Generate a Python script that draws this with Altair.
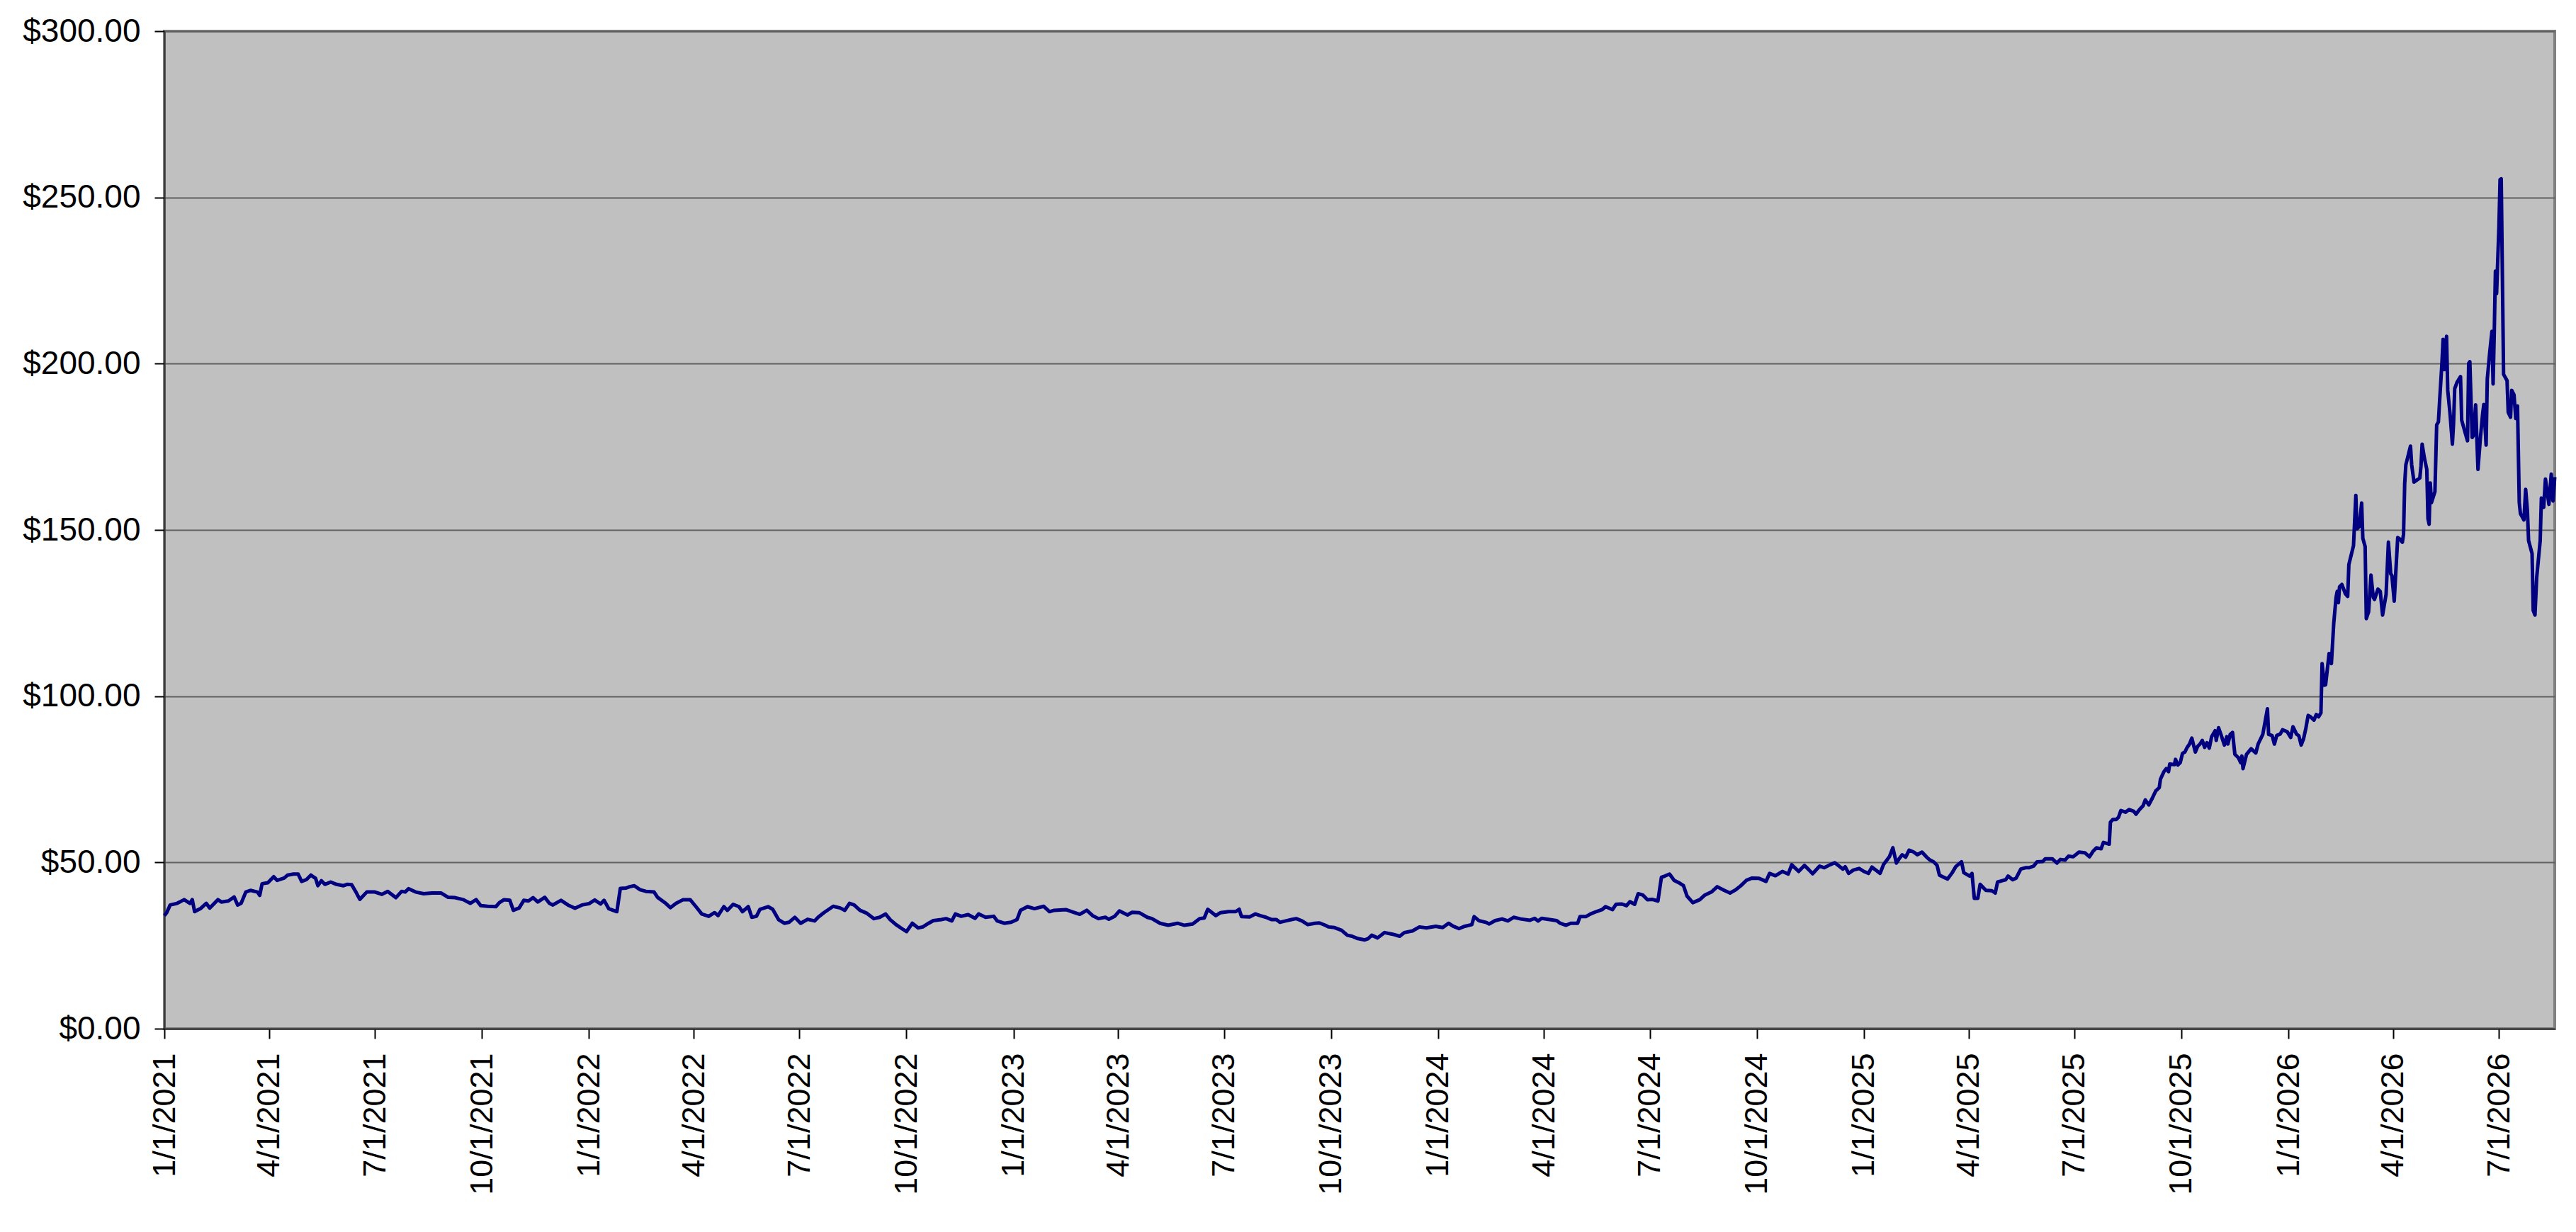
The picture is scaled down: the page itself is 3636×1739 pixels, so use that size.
import altair as alt
import pandas as pd

start_date = "2021-01-01"

# day offsets from 1/1/2021
day_offsets = [
    0, 2, 5, 11, 17, 22, 24, 26, 31, 36, 39, 46, 49, 55, 60, 63, 66, 70, 74, 80, 82, 84, 89, 94, 97,
    103, 106, 111, 115, 118, 122, 126, 130, 132, 135, 138, 143, 148, 154, 157, 161, 165, 168, 174,
    181, 187, 192, 196, 199, 204, 207, 210, 216, 223, 230, 238, 244, 250, 257, 263, 268, 272, 278,
    285, 288, 292, 297, 300, 305, 309, 313, 317, 321, 327, 331, 334, 341, 347, 353, 359, 365, 370,
    375, 378, 382, 389, 392, 397, 400, 404, 409, 414, 421, 424, 431, 435, 440, 446, 452, 457, 462,
    468, 473, 476, 481, 484, 489, 494, 497, 502, 505, 509, 512, 519, 523, 528, 533, 537, 542, 547,
    553, 559, 562, 567, 575, 581, 585, 589, 593, 598, 604, 610, 615, 620, 624, 629, 634, 638, 643,
    648, 652, 657, 661, 668, 672, 677, 680, 685, 691, 697, 700, 706, 713, 716, 722, 728, 733, 736,
    742, 748, 756, 761, 765, 775, 781, 787, 793, 798, 803, 809, 812, 817, 821, 828, 832, 838, 845,
    849, 856, 863, 871, 877, 884, 890, 894, 897, 904, 908, 915, 921, 924, 926, 933, 938, 942, 947,
    952, 956, 959, 964, 969, 973, 978, 983, 989, 993, 998, 1001, 1006, 1012, 1017, 1021, 1026,
    1032, 1035, 1038, 1043, 1049, 1056, 1062, 1066, 1073, 1079, 1085, 1093, 1099, 1104, 1108,
    1113, 1118, 1124, 1126, 1130, 1136, 1139, 1144, 1150, 1155, 1160, 1166, 1174, 1178, 1181,
    1184, 1191, 1197, 1200, 1205, 1209, 1215, 1217, 1222, 1226, 1231, 1236, 1239, 1245, 1248,
    1253, 1257, 1260, 1264, 1267, 1271, 1275, 1279, 1284, 1287, 1290, 1294, 1298, 1302, 1306,
    1309, 1314, 1320, 1324, 1330, 1335, 1341, 1346, 1351, 1355, 1360, 1365, 1371, 1377, 1380,
    1385, 1391, 1396, 1399, 1405, 1410, 1414, 1417, 1423, 1427, 1432, 1436, 1439, 1443, 1445,
    1448, 1452, 1457, 1461, 1465, 1468, 1475, 1478, 1483, 1486, 1489, 1491, 1494, 1497, 1500,
    1504, 1507, 1511, 1515, 1518, 1521, 1524, 1526, 1530, 1533, 1537, 1540, 1545, 1547, 1552,
    1554, 1556, 1559, 1561, 1566, 1571, 1574, 1576, 1580, 1583, 1585, 1589, 1592, 1596, 1600,
    1603, 1607, 1610, 1615, 1617, 1623, 1627, 1630, 1634, 1637, 1641, 1646, 1651, 1655, 1658,
    1661, 1665, 1667, 1672, 1673, 1675, 1678, 1680, 1682, 1686, 1689, 1693, 1695, 1698, 1701,
    1703, 1706, 1709, 1712, 1715, 1716, 1719, 1721, 1723, 1724, 1728, 1729, 1731, 1733, 1735,
    1737, 1739, 1741, 1743, 1746, 1748, 1750, 1752, 1754, 1756, 1758, 1760, 1763, 1764, 1766,
    1768, 1771, 1773, 1774, 1776, 1778, 1780, 1783, 1785, 1786, 1787, 1790, 1794, 1798, 1800,
    1804, 1808, 1809, 1812, 1814, 1816, 1819, 1821, 1825, 1828, 1830, 1833, 1835, 1837, 1839,
    1841, 1843, 1845, 1848, 1850, 1852, 1854, 1855, 1857, 1858, 1861, 1863, 1865, 1867, 1868,
    1869, 1870, 1872, 1875, 1877, 1878, 1882, 1884, 1885, 1887, 1889, 1890, 1892, 1893, 1895,
    1897, 1899, 1900, 1903, 1905, 1907, 1910, 1912, 1914, 1915, 1917, 1920, 1922, 1924, 1925,
    1926, 1927, 1931, 1932, 1934, 1939, 1940, 1941, 1943, 1945, 1946, 1947, 1948, 1949, 1952,
    1953.5, 1955, 1956, 1958, 1959, 1960, 1962, 1963, 1965, 1967, 1968, 1969, 1971, 1974, 1975,
    1978, 1980, 1981, 1982, 1984, 1985, 1987, 1989, 1991, 1993, 1994, 1996, 1997, 1999, 2001,
    2002, 2003, 2004, 2005, 2007, 2008, 2009, 2011, 2014, 2015, 2017, 2018, 2020, 2021.5, 2023,
    2024.5, 2025.5, 2028.5, 2030, 2031.5, 2032.5, 2035.5, 2036.5, 2038, 2039.5, 2042.5, 2043.5,
    2045.5, 2047, 2050, 2052, 2053.5, 2055,
]

prices = [
    34.0, 34.9, 37.2, 37.7, 38.8, 37.7, 38.8, 35.2, 36.1, 37.7, 36.3, 38.8, 38.1, 38.4, 39.6, 37.2,
    37.7, 41.1, 41.6, 41.1, 40.1, 43.6, 43.9, 45.7, 44.6,
    45.3, 46.2, 46.5, 46.5, 44.3, 44.8, 46.2, 45.2, 43.0, 44.5, 43.4, 44.1, 43.4, 43.0, 43.4, 43.3,
    40.9, 38.9, 41.1,
    41.1, 40.4, 41.3, 40.2, 39.4, 41.3, 41.1, 42.1, 41.1, 40.6, 40.8, 40.8, 39.5, 39.4, 38.8, 37.7,
    38.8, 37.0, 36.8,
    36.7, 37.9, 38.8, 38.6, 35.6, 36.3, 38.6, 38.4, 39.4, 38.1, 39.5, 37.7, 37.2, 38.6, 37.2, 36.2,
    37.2, 37.6, 38.7,
    37.5, 38.6, 36.1, 35.2, 42.2, 42.3, 42.7, 43.0, 41.8, 41.3, 41.1, 39.5, 37.7, 36.4, 37.7, 38.8,
    38.8, 36.7, 34.5,
    33.8, 34.9, 34.0, 36.7, 35.6, 37.4, 36.7, 35.2, 36.7, 33.5, 33.8, 35.9, 36.7, 35.9, 32.8, 31.7,
    32.0, 33.5, 31.7,
    32.9, 32.4, 33.5, 34.9, 36.8, 36.3, 35.6, 37.7, 37.2, 35.6, 34.7, 33.1, 33.5, 34.5, 32.8, 31.3,
    30.1, 29.2, 31.7,
    30.3, 30.6, 31.7, 32.5, 32.8, 33.1, 32.4, 34.5, 33.8, 34.3, 33.2, 34.5, 33.5, 33.8, 32.4, 31.7,
    32.0, 32.8, 35.6,
    36.7, 36.1, 36.8, 35.2, 35.6, 35.8, 35.1, 34.4, 35.6, 34.0, 33.1, 33.5, 32.9, 33.8, 35.4, 34.2,
    35.0, 34.9, 33.5,
    33.1, 31.7, 31.1, 31.7, 31.1, 31.5, 33.1, 33.3, 35.9, 34.0, 34.9, 35.2, 35.2, 35.9, 33.7, 33.6,
    34.5, 34.0, 33.5,
    32.8, 32.8, 32.0, 32.4, 32.8, 33.1, 32.4, 31.3, 31.7, 31.8, 31.1, 30.6, 30.4, 29.6, 28.1, 27.8,
    27.1,
    26.7, 27.1, 28.1, 27.3, 28.9, 28.4, 27.8, 28.9, 29.4, 30.6, 30.3, 30.8, 30.4, 31.7, 30.8,
    30.1, 30.8, 31.3, 33.7, 32.5, 32.0, 31.5, 32.5, 33.0, 32.4, 33.5, 33.0, 32.6, 33.2, 32.4,
    33.2, 32.8, 32.5, 31.7, 31.1, 31.7, 31.7, 33.7, 33.7, 34.5, 35.2, 35.8, 36.7, 35.8, 37.4,
    37.5, 37.0, 38.2, 37.4, 40.6, 40.2, 38.8, 38.9, 38.4, 45.5, 45.9, 46.5, 44.6, 43.9, 43.0,
    39.9, 37.9, 38.8, 40.1, 41.1, 42.7, 41.6, 40.8, 41.8, 42.9, 44.6, 45.3, 45.2, 44.3, 46.7,
    46.0, 47.3, 46.5, 49.3, 47.3, 49.1, 47.7, 46.6, 48.9, 48.4, 49.3, 49.9, 49.1, 48.0, 48.7,
    46.7, 47.7, 48.2, 47.3, 46.7, 48.6, 46.7, 49.4, 51.7, 54.4, 49.8, 50.9, 52.3, 51.6, 53.7,
    53.1, 52.3, 53.1, 51.6, 50.7, 50.2, 49.1, 46.2, 45.5, 45.0, 46.9, 48.7, 50.2, 46.9, 45.9,
    46.7, 39.2, 39.2, 43.4, 41.6, 41.5, 40.8, 44.1, 44.5, 44.8, 45.9, 44.8, 45.3, 48.0, 48.4,
    48.4, 48.9, 50.2, 50.3, 51.1, 51.1, 49.8, 50.9, 50.7, 51.9, 51.7, 53.1, 52.9, 51.7, 53.3,
    54.4, 54.1, 56.0, 55.5, 62.1, 62.9, 62.9, 63.6, 65.6, 65.1, 65.9, 65.4, 64.5, 65.9, 67.0,
    68.8, 67.3, 69.3, 71.5, 72.5, 75.0, 77.3, 78.2, 77.3, 79.6, 79.4, 81.0, 79.3, 80.0, 82.8,
    83.2, 84.6, 85.6, 87.4, 83.2, 84.9, 85.6, 86.7, 84.6, 86.0, 84.4, 87.8, 89.6, 86.7, 90.5,
    88.5, 85.3, 87.8, 85.6, 88.5, 89.1, 82.5, 81.5, 80.0, 82.0, 78.2, 82.5, 84.2, 82.9, 85.6,
    88.5, 96.2, 88.5, 88.2, 85.6, 88.2, 88.6, 89.9, 89.3, 87.6, 90.8, 88.6, 88.1, 85.3, 87.1,
    90.3, 94.2, 93.8, 92.8, 94.5, 93.8, 95.0, 109.8, 103.3, 103.4, 112.8, 109.8, 121.9, 129.7, 131.5,
    128.1, 132.9, 133.6, 130.8, 130.0, 139.6, 145.3, 160.4, 150.3, 151.0, 158.1, 147.5, 145.0, 123.3, 125.4,
    136.4, 129.7, 129.1, 132.2, 131.5, 124.4, 130.6, 146.3, 136.8, 136.3, 128.6, 147.7, 147.2, 146.3, 148.7,
    163.9, 169.6, 175.2, 169.6, 164.4, 165.6, 169.2, 175.8, 171.5, 168.2, 153.4, 151.7, 164.1, 158.2, 161.5,
    181.6, 182.5, 188.7, 200.1, 207.3, 198.2, 208.2, 192.0, 184.9, 175.8, 182.0, 192.5, 194.4, 196.1, 183.0,
    179.2, 176.8, 200.1, 200.6, 177.8, 178.3, 187.6, 168.2, 177.3, 184.9, 187.7, 175.5, 195.4, 203.0, 209.7,
    193.9, 209.2, 227.8, 221.1, 241.1, 255.4, 255.6, 196.8, 194.9, 185.4, 183.9, 192.0, 190.6, 183.5, 187.3,
    158.2, 154.9, 153.0, 162.2, 155.8, 146.8, 142.9, 125.8, 124.4, 135.8, 146.8, 159.6,
    156.8, 165.3, 157.7, 166.8, 158.7, 165.9,
]

tick_dates = [
    "2021-01-01", "2021-04-01", "2021-07-01", "2021-10-01",
    "2022-01-01", "2022-04-01", "2022-07-01", "2022-10-01",
    "2023-01-01", "2023-04-01", "2023-07-01", "2023-10-01",
    "2024-01-01", "2024-04-01", "2024-07-01", "2024-10-01",
    "2025-01-01", "2025-04-01", "2025-07-01", "2025-10-01",
    "2026-01-01", "2026-04-01", "2026-07-01",
]
y_ticks = [0, 50, 100, 150, 200, 250, 300]
x_end = "2026-08-18"

n = min(len(day_offsets), len(prices))
df = pd.DataFrame({
    "date": pd.Timestamp(start_date) + pd.to_timedelta(day_offsets[:n], unit="D"),
    "price": prices[:n],
})


def dt(s):
    return alt.DateTime(year=int(s[:4]), month=int(s[5:7]), date=int(s[8:10]))


FONT = "Liberation Sans"

chart = alt.Chart(df).mark_line(
    color="#000080", strokeWidth=5, strokeJoin="round"
).encode(
    x=alt.X(
        "date:T",
        scale=alt.Scale(domain=[dt(start_date), dt(x_end)], nice=False),
        axis=alt.Axis(
            values=[dt(s) for s in tick_dates], format="%-m/%-d/%Y", title=None,
            labelAngle=-90, labelAlign="right", labelBaseline="middle",
            labelFont=FONT, labelFontSize=45, labelColor="black", labelPadding=20,
            labelOverlap=False, labelFlush=False, labelLimit=0, grid=False,
            tickSize=14, tickColor="black", tickWidth=2,
            domainColor="#303030", domainWidth=2,
        ),
    ),
    y=alt.Y(
        "price:Q",
        scale=alt.Scale(domain=[0, 300]),
        axis=alt.Axis(
            values=y_ticks, format="$,.2f", title=None,
            labelFont=FONT, labelFontSize=46, labelColor="black", labelPadding=20,
            labelOverlap=False, labelFlush=False, labelLimit=0,
            grid=True, gridColor="#606060", gridWidth=2,
            tickSize=14, tickColor="black", tickWidth=2,
            domainColor="#303030", domainWidth=2,
        ),
    ),
).properties(
    width=3374, height=1408, background="white",
    padding={"left": 224, "top": 36, "right": 22, "bottom": 280},
    autosize=alt.AutoSizeParams(type="none"),
).configure_view(
    fill="#C0C0C0", stroke="#808080", strokeWidth=4
)

chart.save("out.html", embed_options={"renderer": "svg", "actions": False})
